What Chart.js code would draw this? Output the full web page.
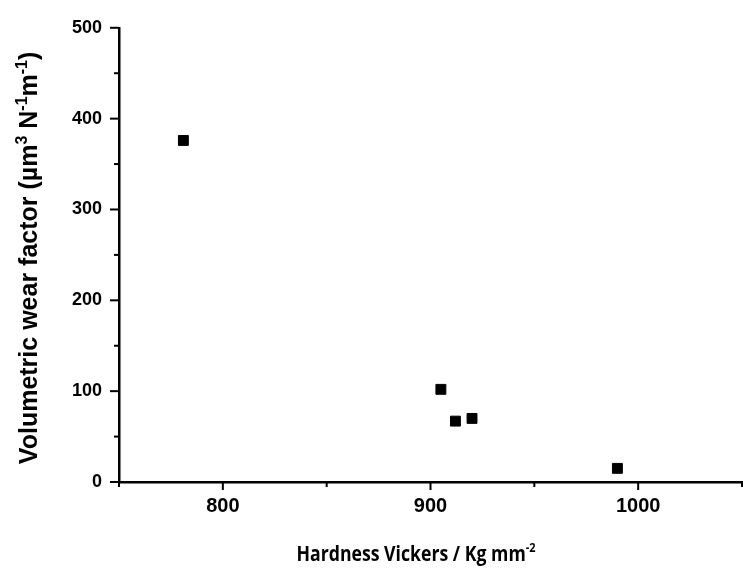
<!DOCTYPE html>
<html>
<head>
<meta charset="utf-8">
<script src="https://cdn.jsdelivr.net/npm/chart.js@4/dist/chart.umd.min.js"></script>
<style>
  html, body { margin: 0; padding: 0; background: #fff; overflow: hidden; }
  #wrap { width: 750px; height: 572px; }
</style>
</head>
<body>
<div id="wrap"><canvas id="wearChart"></canvas></div>
<script>
// hardness (HV) vs volumetric wear factor
const hardness = [781, 905, 912, 920, 990];
const wearFactor = [376, 102, 67, 70, 15];

const xTicks = [800, 900, 1000];
const yTicks = [0, 100, 200, 300, 400, 500];

const points = hardness.map((h, i) => ({ x: h, y: wearFactor[i] }));

const titleFont = "'Open Sans'";
const arialBold = "'Liberation Sans', Arial, sans-serif";

// draws a run of [text, isSuperscript] parts starting at (0,0)
function drawRuns(ctx, runs, size, family) {
    let x = 0;
    runs.forEach(([txt, sup]) => {
        ctx.font = `bold ${sup ? Math.round(size * 0.62) : size}px ${family}`;
        ctx.fillText(txt, x, sup ? -size * 0.42 : 0);
        x += ctx.measureText(txt).width;
    });
    return x;
}

function runsWidth(ctx, runs, size, family) {
    let w = 0;
    runs.forEach(([txt, sup]) => {
        ctx.font = `bold ${sup ? Math.round(size * 0.62) : size}px ${family}`;
        w += ctx.measureText(txt).width;
    });
    return w;
}

// tick marks of two lengths plus the axis titles with superscripts
const axisDecor = {
    id: "axisDecor",
    afterDraw(chart) {
        const { ctx, chartArea, scales } = chart;
        ctx.save();
        ctx.strokeStyle = "#000";
        ctx.lineWidth = 2;

        for (let v = 750; v <= 1050; v += 50) {
            const px = scales.x.getPixelForValue(v);
            const len = v % 100 === 0 ? 8 : 5;
            ctx.beginPath();
            ctx.moveTo(px, chartArea.bottom);
            ctx.lineTo(px, chartArea.bottom + len);
            ctx.stroke();
        }
        for (let v = 0; v <= 500; v += 50) {
            const py = scales.y.getPixelForValue(v);
            const len = v % 100 === 0 ? 9 : 5;
            ctx.beginPath();
            ctx.moveTo(chartArea.left, py);
            ctx.lineTo(chartArea.left - len, py);
            ctx.stroke();
        }

        ctx.fillStyle = "#000";
        ctx.textBaseline = "alphabetic";
        ctx.textAlign = "left";

        // x title, a little condensed
        const xRuns = [["Hardness Vickers / Kg mm", false], ["-2", true]];
        const xw = runsWidth(ctx, xRuns, 21, titleFont);
        const squeeze = 239 / xw;
        ctx.save();
        ctx.translate(chartArea.left + 297 - (xw * squeeze) / 2, chartArea.bottom + 79);
        ctx.scale(squeeze, 1);
        drawRuns(ctx, xRuns, 21, titleFont);
        ctx.restore();

        // y title
        const yRuns = [
            ["Volumetric wear factor (\u00b5m", false], ["3", true],
            [" N", false], ["-1", true], ["m", false], ["-1", true], [")", false]
        ];
        const yw = runsWidth(ctx, yRuns, 25, arialBold);
        ctx.save();
        ctx.translate(37, (chartArea.top + chartArea.bottom) / 2 + 3 + yw / 2);
        ctx.rotate(-Math.PI / 2);
        drawRuns(ctx, yRuns, 25, arialBold);
        ctx.restore();

        ctx.restore();
    }
};

new Chart(document.getElementById("wearChart"), {
    type: "scatter",
    data: {
        datasets: [{
            data: points,
            pointStyle: "rect",
            pointRadius: 7,
            pointHoverRadius: 7,
            backgroundColor: "#000",
            borderColor: "#000",
            borderWidth: 1
        }]
    },
    options: {
        responsive: true,
        maintainAspectRatio: false,
        animation: false,
        layout: { padding: { top: 24, right: 0, left: 0, bottom: 0 } },
        plugins: {
            legend: { display: false },
            tooltip: { enabled: false }
        },
        scales: {
            x: {
                type: "linear",
                min: 750,
                max: 1050,
                afterBuildTicks: (scale) => {
                    scale.ticks = xTicks.map((v) => ({ value: v }));
                },
                afterFit: (scale) => { scale.height = 90; },
                grid: { display: false, drawTicks: false },
                border: { display: true, color: "#000", width: 2.5 },
                ticks: {
                    color: "#000",
                    padding: 12,
                    maxRotation: 0,
                    callback: (v) => String(v),
                    font: { family: arialBold, weight: "bold", size: 20 }
                }
            },
            y: {
                min: 0,
                max: 500,
                afterBuildTicks: (scale) => {
                    scale.ticks = yTicks.map((v) => ({ value: v }));
                },
                afterFit: (scale) => { scale.width = 119; },
                grid: { display: false, drawTicks: false },
                border: { display: true, color: "#000", width: 2.5 },
                ticks: {
                    color: "#000",
                    padding: 17,
                    callback: (v) => String(v),
                    font: { family: arialBold, weight: "bold", size: 18 }
                }
            }
        }
    },
    plugins: [axisDecor]
});
</script>
</body>
</html>
